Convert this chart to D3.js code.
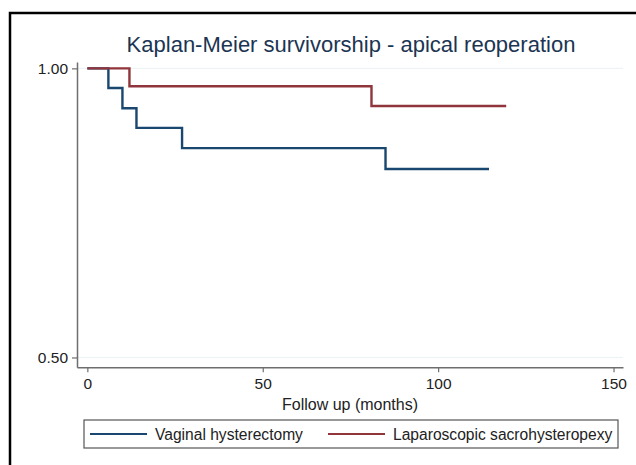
<!DOCTYPE html>
<html>
<head>
<meta charset="utf-8">
<script src="https://cdn.jsdelivr.net/npm/d3@7"></script>
<style>
  body { margin: 0; background: #fff; }
  svg text { font-family: "Liberation Sans", Arial, sans-serif; }
</style>
</head>
<body>
<div id="chartContainer"></div>
<script>
// Kaplan-Meier step data: time (months) and survival estimate
var vaginalTimes    = [0, 6, 10, 14, 27, 85, 114.5];
var vaginalSurv     = [1.00, 0.966, 0.931, 0.897, 0.862, 0.826, 0.826];
var laparoTimes     = [0, 12, 81, 119.4];
var laparoSurv      = [1.00, 0.969, 0.935, 0.935];

var xTicks  = [0, 50, 100, 150];
var yTicks  = [0.50, 1.00];
var seriesNames = ["Vaginal hysterectomy", "Laparoscopic sacrohysteropexy"];
var seriesColors = ["#1a476f", "#90353b"];

var width = 636, height = 465;

var svg = d3.select("#chartContainer")
  .append("svg")
    .attr("width", width)
    .attr("height", height);

// outer frame
svg.append("rect")
  .attr("x", 10).attr("y", 13)
  .attr("width", 660).attr("height", 480)
  .attr("fill", "#fff")
  .attr("stroke", "#000")
  .attr("stroke-width", 2.5);

// title
svg.append("text")
  .attr("x", 351).attr("y", 52)
  .attr("text-anchor", "middle")
  .attr("font-size", 22)
  .attr("fill", "#1b3553")
  .text("Kaplan-Meier survivorship - apical reoperation");

var x = d3.scaleLinear()
  .domain([-2.95, 152.7])
  .range([77, 623]);

var y = d3.scaleLinear()
  .domain([0.483, 1.011])
  .range([367.3, 62]);

// gridlines
svg.append("g")
  .selectAll("line")
  .data(yTicks)
  .enter().append("line")
    .attr("x1", x.range()[0]).attr("x2", x.range()[1])
    .attr("y1", d => y(d)).attr("y2", d => y(d))
    .attr("stroke", "#eaf2f3")
    .attr("stroke-width", 1);

// X axis
var xAxis = svg.append("g")
  .attr("transform", "translate(0," + y.range()[0] + ")")
  .call(d3.axisBottom(x).tickValues(xTicks).tickSize(5).tickSizeOuter(0).tickPadding(6));

// Y axis
var yAxis = svg.append("g")
  .attr("transform", "translate(" + x.range()[0] + ",0)")
  .call(d3.axisLeft(y).tickValues(yTicks).tickFormat(d3.format(".2f")).tickSize(5).tickSizeOuter(0).tickPadding(4));

[xAxis, yAxis].forEach(function(a) {
  a.select(".domain").attr("stroke", "#6e6e6e").attr("stroke-width", 1.5);
  a.selectAll(".tick line").attr("stroke", "#6e6e6e").attr("stroke-width", 1.2);
  a.selectAll(".tick text")
    .attr("font-size", 15.5)
    .attr("fill", "#222")
    .style("font-family", "'Liberation Sans', Arial, sans-serif");
});

// x label
svg.append("text")
  .attr("x", 350).attr("y", 410)
  .attr("text-anchor", "middle")
  .attr("font-size", 16)
  .attr("fill", "#222")
  .text("Follow up (months)");

// survival curves
var series = [
  vaginalTimes.map((t, i) => ({t: t, s: vaginalSurv[i]})),
  laparoTimes.map((t, i) => ({t: t, s: laparoSurv[i]}))
];

var line = d3.line()
  .x(d => x(d.t))
  .y(d => y(d.s))
  .curve(d3.curveStepAfter);

series.forEach(function(data, i) {
  svg.append("path")
    .datum(data)
    .attr("fill", "none")
    .attr("stroke", seriesColors[i])
    .attr("stroke-width", 2.4)
    .attr("d", line);
});

// legend
var legend = svg.append("g");
legend.append("rect")
  .attr("x", 84).attr("y", 420)
  .attr("width", 534).attr("height", 28)
  .attr("fill", "#fff")
  .attr("stroke", "#555")
  .attr("stroke-width", 1.2);

var legendX = [90, 328];
seriesNames.forEach(function(name, i) {
  legend.append("line")
    .attr("x1", legendX[i]).attr("x2", legendX[i] + 57)
    .attr("y1", 434).attr("y2", 434)
    .attr("stroke", seriesColors[i])
    .attr("stroke-width", 2);
  legend.append("text")
    .attr("x", legendX[i] + 65).attr("y", 439.5)
    .attr("font-size", 15.6)
    .attr("fill", "#222")
    .text(name);
});
</script>
</body>
</html>
